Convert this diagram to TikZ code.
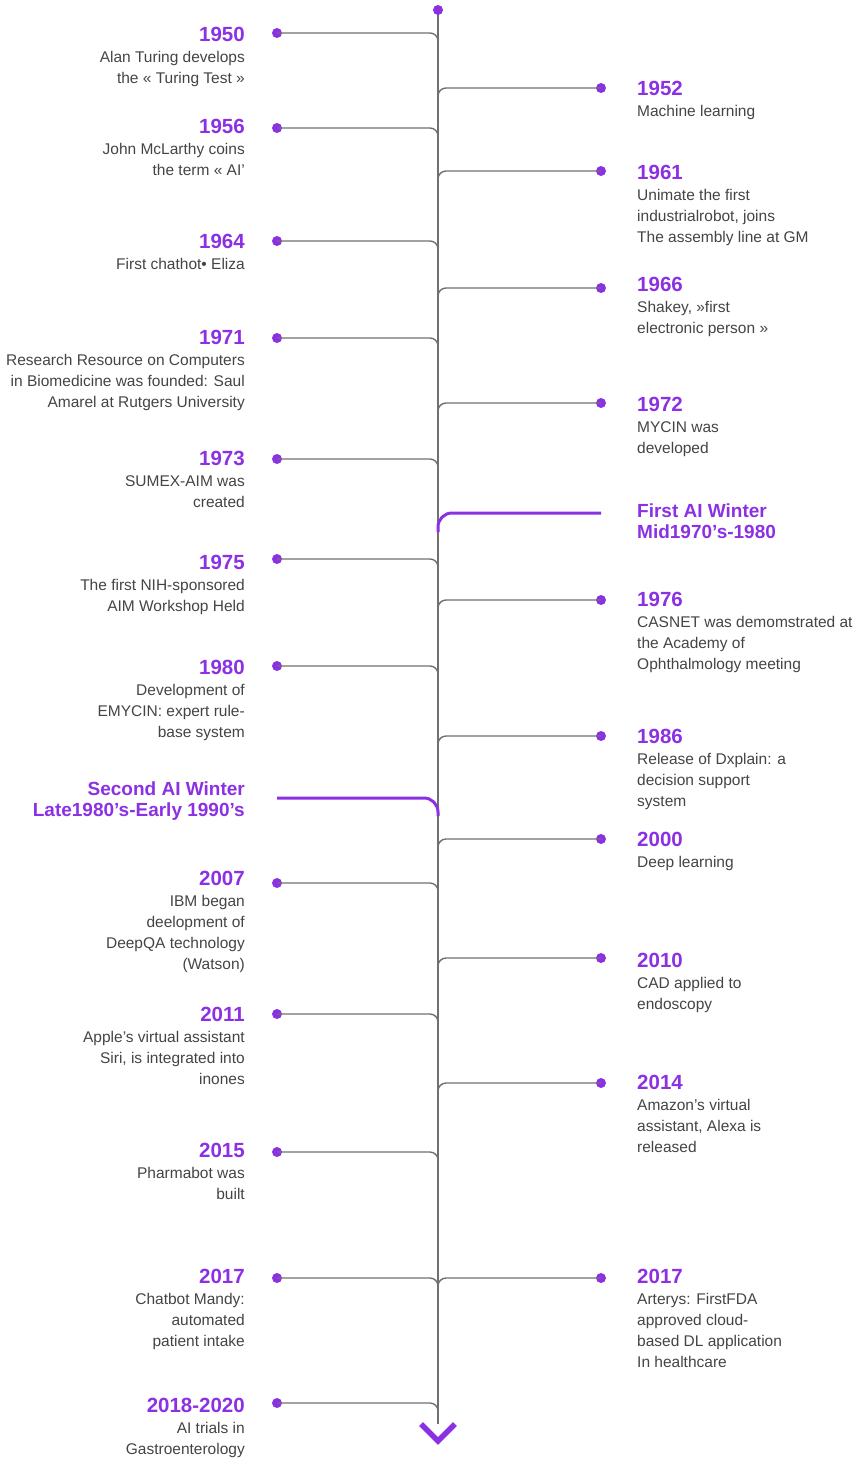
\documentclass[tikz,border=0pt]{standalone}
\usepackage{fontspec}
\setmainfont{Liberation Sans}
\definecolor{accent}{RGB}{140,48,228}
\definecolor{linegray}{RGB}{112,112,112}
\definecolor{textgray}{RGB}{68,68,68}
\tikzset{
  dot/.style={circle, fill=accent, inner sep=0pt, minimum size=10pt},
  branch/.style={draw=linegray, line width=1.4pt, rounded corners=8pt},
  spine/.style={draw=linegray, line width=1.4pt},
  winterline/.style={draw=accent, line width=3pt, rounded corners=14pt},
  yearL/.style={anchor=base east, inner sep=0pt, text=accent, font=\fontsize{20.5}{24}\selectfont\bfseries},
  yearR/.style={anchor=base west, inner sep=0pt, text=accent, font=\fontsize{20.5}{24}\selectfont\bfseries},
  descL/.style={anchor=base east, inner sep=0pt, text=textgray, font=\fontsize{15.5}{21}\selectfont},
  descR/.style={anchor=base west, inner sep=0pt, text=textgray, font=\fontsize{15.5}{21}\selectfont},
  winterL/.style={anchor=base east, inner sep=0pt, text=accent, font=\fontsize{19}{21}\selectfont\bfseries},
  winterR/.style={anchor=base west, inner sep=0pt, text=accent, font=\fontsize{19}{21}\selectfont\bfseries},
}
% text blocks hang from the baseline of their first line
\newcommand{\blockR}[1]{\begin{tabular}[t]{@{}r@{}}#1\end{tabular}}
\newcommand{\blockL}[1]{\begin{tabular}[t]{@{}l@{}}#1\end{tabular}}
% left-hand event: name, dot y, year y, year, description
\newcommand{\evLeft}[5]{%
  \node[dot] (d#1) at (277,#2) {};
  \node[yearL] (y#1) at (245,#3+7) {#4};
  \node[descL] (t#1) at (245,#3+28) {\blockR{#5}};
  \coordinate (j#1) at (438,#2+20);
  \draw[branch] (d#1.center) -| (j#1);
}
% right-hand event: name, dot y, year y, year, description
\newcommand{\evRight}[5]{%
  \node[dot] (d#1) at (601,#2) {};
  \node[yearR] (y#1) at (637,#3+7) {#4};
  \node[descR] (t#1) at (637,#3+28) {\blockL{#5}};
  \coordinate (j#1) at (438,#2+20);
  \draw[branch] (d#1.center) -| (j#1);
}
\begin{document}
\begin{tikzpicture}[x=1pt, y=-1pt]
\useasboundingbox (0,0) rectangle (859,1460);

% main time axis
\coordinate (top) at (438,10);
\coordinate (bottom) at (438,1424);
\draw[spine] (top) -- (bottom);

% left column
\evLeft{a}{33}{34}{1950}{Alan Turing develops\\the « Turing Test »}
\evLeft{b}{128}{126}{1956}{John McLarthy coins\\the term « AI’}
\evLeft{c}{241}{241}{1964}{First chathot• Eliza}
\evLeft{d}{338}{337}{1971}{Research Resource on Computers\\in Biomedicine was founded: Saul\\Amarel at Rutgers University}
\evLeft{e}{459}{458}{1973}{SUMEX-AIM was\\created}
\evLeft{f}{559}{562}{1975}{The first NIH-sponsored\\AIM Workshop Held}
\evLeft{g}{666}{667}{1980}{Development of\\EMYCIN: expert rule-\\base system}
\evLeft{h}{883}{878}{2007}{IBM began\\deelopment of\\DeepQA technology\\(Watson)}
\evLeft{i}{1014}{1014}{2011}{Apple’s virtual assistant\\Siri, is integrated into\\inones}
\evLeft{k}{1152}{1150}{2015}{Pharmabot was\\built}
\evLeft{l}{1278}{1276}{2017}{Chatbot Mandy:\\automated\\patient intake}
\evLeft{m}{1403}{1405}{2018-2020}{AI trials in\\Gastroenterology}

% right column
\evRight{A}{88}{88}{1952}{Machine learning}
\evRight{B}{171}{172}{1961}{Unimate the first\\industrialrobot, joins\\The assembly line at GM}
\evRight{C}{288}{284}{1966}{Shakey, »first\\electronic person »}
\evRight{D}{403}{404}{1972}{MYCIN was\\developed}
\evRight{E}{600}{599}{1976}{CASNET was demomstrated at\\the Academy of\\Ophthalmology meeting}
\evRight{F}{736}{736}{1986}{Release of Dxplain: a\\decision support\\system}
\evRight{G}{839}{839}{2000}{Deep learning}
\evRight{H}{958}{960}{2010}{CAD applied to\\endoscopy}
\evRight{I}{1083}{1082}{2014}{Amazon’s virtual\\assistant, Alexa is\\released}
\evRight{J}{1278}{1276}{2017}{Arterys: FirstFDA\\approved cloud-\\based DL application\\In healthcare}

% AI winters
\coordinate (w1) at (601,513);
\coordinate (w1j) at (438,532);
\draw[winterline] (w1) -| (w1j);
\node[winterR] (w1t) at (637,517) {\blockL{First AI Winter\\Mid1970’s-1980}};

\coordinate (w2) at (277,798);
\coordinate (w2j) at (438,816);
\draw[winterline] (w2) -| (w2j);
\node[winterL] (w2t) at (245,795) {\blockR{Second AI Winter\\Late1980’s-Early 1990’s}};

% start dot and end chevron
\node[dot] (start) at (top) {};
\draw[draw=accent, line width=5.5pt] (421,1424) -- (438,1441) -- (455,1424);
\end{tikzpicture}
\end{document}
